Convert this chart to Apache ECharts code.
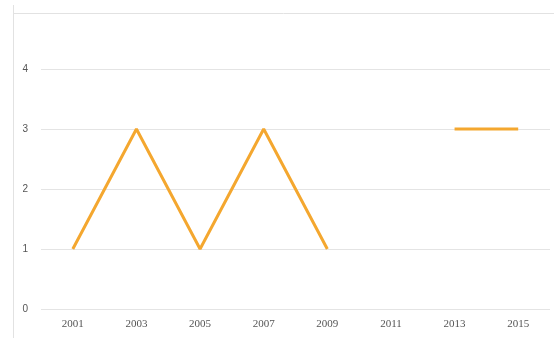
<!DOCTYPE html>
<html><head><meta charset="utf-8">
<script src="https://cdn.jsdelivr.net/npm/echarts@6/dist/echarts.min.js"></script>
<style>html,body{margin:0;padding:0;background:#fff}#c{width:554px;height:338px}</style>
</head><body><div id="c"></div>
<script>
const categories = ['2001','2003','2005','2007','2009','2011','2013','2015'];
const values = [1, 3, 1, 3, 1, null, 3, 3];
const yTicks = [0, 1, 2, 3, 4];

const chart = echarts.init(document.getElementById('c'));
chart.setOption({
  animation: false,
  backgroundColor: '#fff',
  graphic: [
    {type: 'line', shape: {x1: 13, y1: 13.5, x2: 554, y2: 13.5}, style: {stroke: '#e2e2e2', lineWidth: 1}},
    {type: 'line', shape: {x1: 13.5, y1: 5, x2: 13.5, y2: 338}, style: {stroke: '#e2e2e2', lineWidth: 1}}
  ],
  grid: {left: 41, right: 4, top: 69, bottom: 29, containLabel: false},
  xAxis: {
    type: 'category', data: categories, boundaryGap: true,
    axisLine: {show: false}, axisTick: {show: false},
    axisLabel: {color: '#555', fontSize: 11, fontFamily: 'Liberation Serif', margin: 10}
  },
  yAxis: {
    type: 'value', min: yTicks[0], max: yTicks[yTicks.length - 1], interval: 1,
    axisLine: {show: false}, axisTick: {show: false},
    axisLabel: {color: '#555', fontSize: 10, fontFamily: 'Liberation Sans', margin: 13},
    splitLine: {lineStyle: {color: '#e4e4e4', width: 1}}
  },
  series: [{
    type: 'line', data: values, connectNulls: false,
    symbol: 'none',
    lineStyle: {color: '#f4a72f', width: 3}
  }]
});
</script></body></html>
